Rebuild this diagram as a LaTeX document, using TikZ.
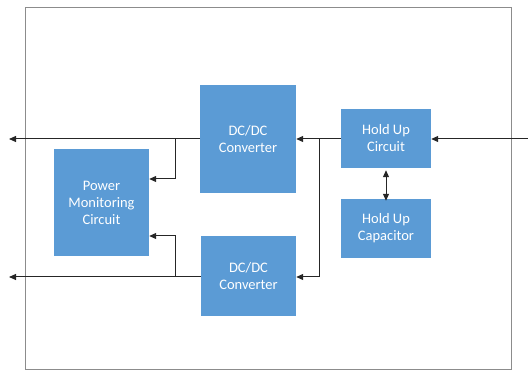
\documentclass[tikz,border=0pt]{standalone}
\usepackage{fontspec}
\setmainfont{Carlito}
\usetikzlibrary{arrows.meta}
\definecolor{blockblue}{HTML}{5B9BD5}
\definecolor{framegray}{HTML}{8C8C8C}
\begin{document}
\begin{tikzpicture}[x=1pt, y=-1pt,
	block/.style={fill=blockblue, draw=none, text=white, align=center,
		font=\fontsize{14.5}{17}\selectfont, inner sep=0pt},
	wire/.style={line width=1pt, black!85, -{Triangle[length=7pt, width=6pt]}}]

	\useasboundingbox (0,0) rectangle (528,371);

	% Outer frame
	\draw[framegray, line width=1pt] (25.5,7.5) rectangle (511,370);

	% Blocks
	\node[block, minimum width=96pt, minimum height=108pt] (dctop) at (248,139) {DC/DC\\Converter};
	\node[block, minimum width=95pt, minimum height=80pt] (dcbot) at (248.5,276) {DC/DC\\Converter};
	\node[block, minimum width=95pt, minimum height=107pt] (pmc) at (101.5,202.5) {Power\\Monitoring\\Circuit};
	\node[block, minimum width=90pt, minimum height=59pt] (hucirc) at (386,138.5) {Hold Up\\Circuit};
	\node[block, minimum width=90pt, minimum height=59pt] (hucap) at (386,228.5) {Hold Up\\Capacitor};

	% Free ends
	\coordinate (outtop) at (9,139);
	\coordinate (outbot) at (9,277);
	\coordinate (input) at (528,139);

	% Outputs
	\draw[wire] (dctop.west |- 0,139) -- (outtop);
	\draw[wire] (dcbot.west |- 0,277) -- (outbot);
	\draw[wire] (175,139) -- (175,179) -- (pmc.east |- 0,179);
	\draw[wire] (175,277) -- (175,236) -- (pmc.east |- 0,236);

	% Input and hold up path
	\draw[wire] (input) -- (hucirc.east |- 0,139);
	\draw[wire] (hucirc.west |- 0,139) -- (dctop.east |- 0,139);
	\draw[wire] (319,139) -- (319,277) -- (dcbot.east |- 0,277);
	\draw[wire, {Triangle[length=7pt, width=6pt]}-{Triangle[length=7pt, width=6pt]}]
		(hucirc.south) ++(0,2) -- ([yshift=-2pt]hucap.north);

\end{tikzpicture}
\end{document}
